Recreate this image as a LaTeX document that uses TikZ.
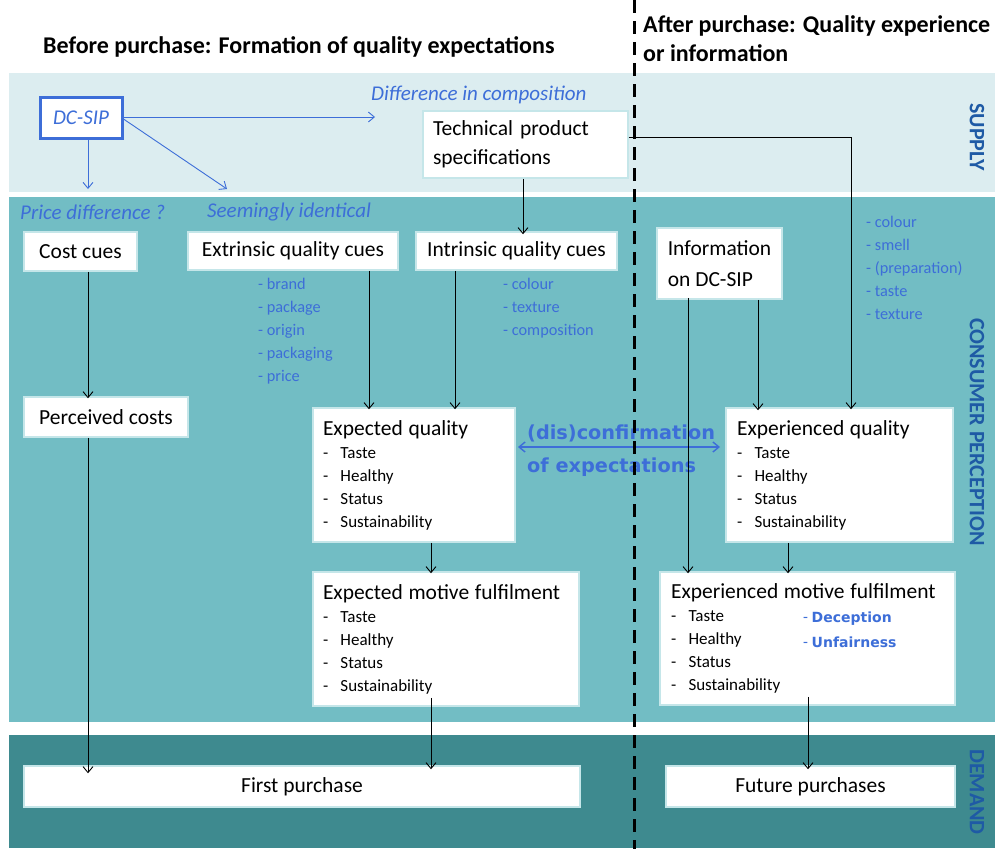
\documentclass[tikz,border=0pt]{standalone}
\usepackage{fontspec}
\setmainfont{Carlito}
\newfontfamily\dejavu{DejaVu Sans}
\usetikzlibrary{arrows.meta}
\hyphenpenalty=10000
\exhyphenpenalty=10000
\definecolor{supplyc}{HTML}{DCEDF0}
\definecolor{consc}{HTML}{72BDC4}
\definecolor{demc}{HTML}{3E8A8F}
\definecolor{bluec}{HTML}{3D6ED8}
\definecolor{sidec}{HTML}{1E5AA5}
\definecolor{boxc}{HTML}{C5E6E9}
\newcommand\myitem[1]{\makebox[17.5pt][l]{-}#1}
\newcommand\titlefont{\fontsize{21.5}{26}\selectfont}
\begin{document}
\begin{tikzpicture}[x=1pt,y=-1pt,
  box/.style={draw=boxc, line width=1.5pt, fill=white, inner sep=0pt, font=\titlefont, text=black},
  listbox/.style={box, align=left, font=\fontsize{17}{23}\selectfont},
  arr/.style={-{Straight Barb[length=6pt,width=10pt]}, line width=0.9pt, draw=black},
  barr/.style={arr, draw=bluec},
  bluelist/.style={text=bluec, font=\fontsize{16.3}{23}\selectfont, align=left, anchor=north west, inner sep=0pt},
  bluehead/.style={text=bluec, font=\itshape\fontsize{21}{25}\selectfont, inner sep=0pt},
  side/.style={text=sidec, font=\bfseries\fontsize{22}{26}\selectfont, rotate=-90, inner sep=0pt},
  head/.style={font=\bfseries\fontsize{24}{29}\selectfont, inner sep=0pt, text=black}
]
\useasboundingbox (0,0) rectangle (995,849);
% bands
\fill[supplyc] (9,73) rectangle (995,192);
\fill[consc] (9,197) rectangle (995,722);
\fill[demc] (9,735) rectangle (995,848);

% headers
\node[head, anchor=west] (hbefore) at (43,47) {Before purchase: Formation of quality expectations};
\node[head, anchor=west, align=left] (hafter) at (643,38.5) {After purchase: Quality experience\\or information};

% side labels
\node[side] (lsupply) at (977,137) {SUPPLY};
\node[side] (lcons) at (977,432) {CONSUMER PERCEPTION};
\node[side] (ldem) at (977,792) {DEMAND};

% blue italic headings
\node[bluehead, anchor=west] (hdiff) at (371,95) {Difference in composition};
\node[bluehead, anchor=west] (hprice) at (20,212) {Price difference ?};
\node[bluehead, anchor=west] (hseem) at (207,212) {Seemingly identical};

% supply boxes
\node[draw=bluec, line width=3pt, fill=white, minimum width=82pt, minimum height=41pt, inner sep=0pt,
      text=bluec, font=\itshape\fontsize{21}{25}\selectfont] (dcsip) at (81,117.5) {DC-SIP};
\node[box, minimum width=205pt, minimum height=67pt, text width=185pt, align=left,
      font=\fontsize{21.5}{29}\selectfont] (tech) at (525.5,144.5) {Technical product\\specifications};

% consumer perception boxes
\node[box, minimum width=113pt, minimum height=39pt] (cost) at (80.5,251.5) {Cost cues};
\node[box, minimum width=210pt, minimum height=38pt] (ext) at (293,251) {Extrinsic quality cues};
\node[box, minimum width=201pt, minimum height=38pt] (int) at (516.5,251) {Intrinsic quality cues};
\node[box, minimum width=125pt, minimum height=71pt, align=left, font=\fontsize{21.5}{31}\selectfont] (info) at (719.5,263.5) {Information\\on DC-SIP};
\node[box, minimum width=164pt, minimum height=40pt] (perc) at (106,417) {Perceived costs};

\node[listbox, minimum width=202pt, minimum height=134pt, text width=182pt] (eq) at (414,475)
  {{\titlefont Expected quality}\\ \myitem{Taste}\\ \myitem{Healthy}\\ \myitem{Status}\\ \myitem{Sustainability}};
\node[listbox, minimum width=266pt, minimum height=134pt, text width=246pt] (emf) at (446,639)
  {{\titlefont Expected motive fulfilment}\\ \myitem{Taste}\\ \myitem{Healthy}\\ \myitem{Status}\\ \myitem{Sustainability}};
\node[listbox, minimum width=227pt, minimum height=134pt, text width=205pt] (xq) at (839.5,475)
  {{\titlefont Experienced quality}\\ \myitem{Taste}\\ \myitem{Healthy}\\ \myitem{Status}\\ \myitem{Sustainability}};
\node[listbox, minimum width=295pt, minimum height=133pt, text width=273pt] (xmf) at (807.5,638.5)
  {{\titlefont Experienced motive fulfilment}\\ \myitem{Taste}\\ \myitem{Healthy}\\ \myitem{Status}\\ \myitem{Sustainability}};
\node[anchor=west, inner sep=0pt, text=bluec, font=\fontsize{16}{20}\selectfont] (dec) at (803,619) {-~{\dejavu\bfseries\fontsize{14}{16}\selectfont Deception}};
\node[anchor=west, inner sep=0pt, text=bluec, font=\fontsize{16}{20}\selectfont] (unf) at (803,642) {-~{\dejavu\bfseries\fontsize{14}{16}\selectfont Unfairness}};

% blue lists
\node[bluelist] (extlist) at (258,278) {- brand\\- package\\- origin\\- packaging\\- price};
\node[bluelist] (intlist) at (503,278) {- colour\\- texture\\- composition};
\node[bluelist] (xlist) at (866,216) {- colour\\- smell\\- (preparation)\\- taste\\- texture};

% (dis)confirmation text
\node[anchor=west, inner sep=0pt, text=bluec, font=\dejavu\bfseries\fontsize{19.3}{22}\selectfont] (dis1) at (527,433) {(dis)confirmation};
\node[anchor=west, inner sep=0pt, text=bluec, font=\dejavu\bfseries\fontsize{19.3}{22}\selectfont] (dis2) at (527,467) {of expectations};

% demand boxes
\node[box, minimum width=556pt, minimum height=41pt] (first) at (302,786.5) {First purchase};
\node[box, minimum width=289pt, minimum height=41pt] (future) at (810.5,786.5) {Future purchases};

% free-end coordinates
\coordinate (dcR) at (375,117);
\coordinate (dcD) at (88,189);
\coordinate (dcG) at (227,189);
\coordinate (dcS) at (122,118);
\coordinate (corner) at (851,137);
\coordinate (dl) at (518,447);
\coordinate (dr) at (720,447);
% x positions
\coordinate (x88) at (88,0);
\coordinate (x369) at (369,0);
\coordinate (x455) at (455,0);
\coordinate (x431) at (431,0);
\coordinate (x523) at (523,0);
\coordinate (x688) at (688,0);
\coordinate (x758) at (758,0);
\coordinate (x788) at (788,0);
\coordinate (x808) at (808,0);

% DC-SIP arrows
\draw[barr] (dcsip.east |- dcR) -- (dcR);
\draw[barr] (dcsip.south -| dcD) -- (dcD);
\draw[barr] (dcS) -- (dcG);

% double arrow
\draw[{Straight Barb[length=6pt,width=10pt]}-{Straight Barb[length=6pt,width=10pt]}, line width=1.4pt, draw=bluec] (dl) -- (dr);

% black arrows
\draw[arr] (tech.south -| x523) -- ([yshift=-3pt]int.north -| x523);
\draw[arr] (tech.east |- corner) -- (corner) -- ([yshift=-2pt]xq.north -| corner);
\draw[arr] (cost.south -| x88) -- ([yshift=-2pt]perc.north -| x88);
\draw[arr] (perc.south -| x88) -- ([yshift=-8pt]first.north -| x88);
\draw[arr] (ext.south -| x369) -- ([yshift=-2pt]eq.north -| x369);
\draw[arr] (int.south -| x455) -- ([yshift=-2pt]eq.north -| x455);
\draw[arr] (eq.south -| x431) -- ([yshift=-2pt]emf.north -| x431);
\draw[arr] ([yshift=9pt]emf.south -| x431) -- ([yshift=-4pt]first.north -| x431);
\draw[arr] ([yshift=2pt]info.south -| x688) -- ([yshift=-2pt]xmf.north -| x688);
\draw[arr] (info.south -| x758) -- ([yshift=-3pt]xq.north -| x758);
\draw[arr] (xq.south -| x788) -- ([yshift=-2pt]xmf.north -| x788);
\draw[arr] ([yshift=9pt]xmf.south -| x808) -- ([yshift=-4pt]future.north -| x808);

% dashed divider
\coordinate (dtop) at (634,0);
\coordinate (dbot) at (634,849);
\draw[line width=3pt, dash pattern=on 13pt off 8pt] (dtop) -- (dbot);
\end{tikzpicture}
\end{document}
